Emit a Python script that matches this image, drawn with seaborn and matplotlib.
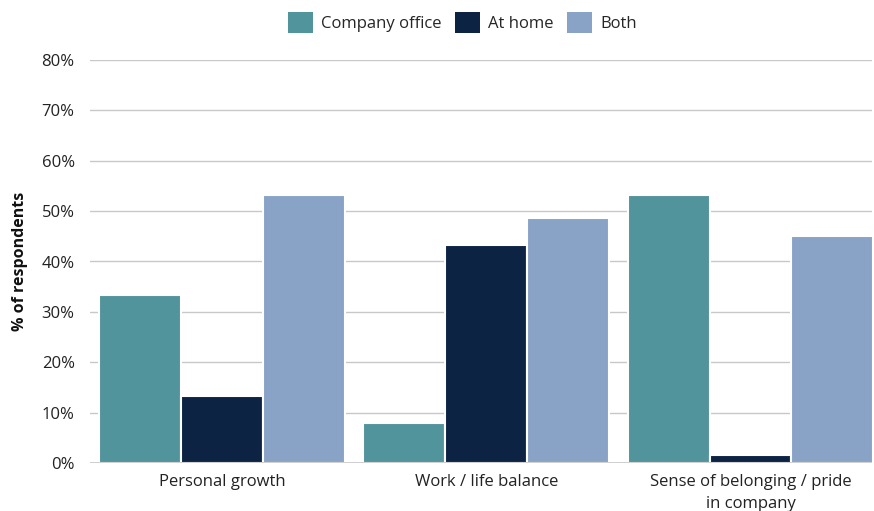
import seaborn as sns
import matplotlib.pyplot as plt
import pandas as pd
from matplotlib.patches import Patch
from matplotlib.ticker import PercentFormatter

categories = ["Personal growth", "Work / life balance", "Sense of belonging / pride\nin company"]
series_names = ["Company office", "At home", "Both"]
company_office = [33.4, 8.0, 53.3]
at_home = [13.3, 43.2, 1.6]
both = [53.2, 48.7, 45.0]
colors = ["#52949B", "#0C2344", "#89A3C7"]

df = pd.DataFrame({
    "category": categories * 3,
    "where": [s for s in series_names for _ in categories],
    "value": company_office + at_home + both,
})

sns.set_style("white")
plt.rcParams["font.family"] = ["Open Sans", "DejaVu Sans"]

fig = plt.figure(figsize=(8.74, 5.11), dpi=100)
ax = fig.add_axes([90 / 874, 48 / 511, 782 / 874, 403 / 511])

sns.barplot(data=df, x="category", y="value", hue="where", hue_order=series_names,
            palette=colors, saturation=1, width=0.93, edgecolor="white", linewidth=1.5,
            legend=False, ax=ax)

ax.set_ylim(0, 80)
ax.set_xlim(-0.5, 2.46)
ax.set_yticks(range(0, 81, 10))
ax.yaxis.set_major_formatter(PercentFormatter(decimals=0))
ax.grid(axis="y", color="#C8C8C8", linewidth=1)
ax.set_axisbelow(True)
# baseline drawn over the bars
ax.axhline(0, color="#C8C8C8", linewidth=1.2, zorder=5)
for s in ax.spines.values():
    s.set_visible(False)
ax.tick_params(axis="both", length=0, labelsize=12, colors="#222222", pad=8)
ax.tick_params(axis="y", pad=11)
for lab in ax.get_xticklabels():
    lab.set_linespacing(1.45)
ax.set_xlabel("")
ax.set_ylabel("% of respondents", fontsize=11.5, fontweight="bold", color="#111111", labelpad=10)

handles = [Patch(facecolor=c, edgecolor="none") for c in colors]
fig.legend(handles, series_names, loc="upper center", bbox_to_anchor=(0.529, 1.005),
           ncol=3, frameon=False, fontsize=12, handlelength=1.5, handleheight=1.5,
           handletextpad=0.5, columnspacing=0.8)

fig.savefig("out.png", dpi=100)
